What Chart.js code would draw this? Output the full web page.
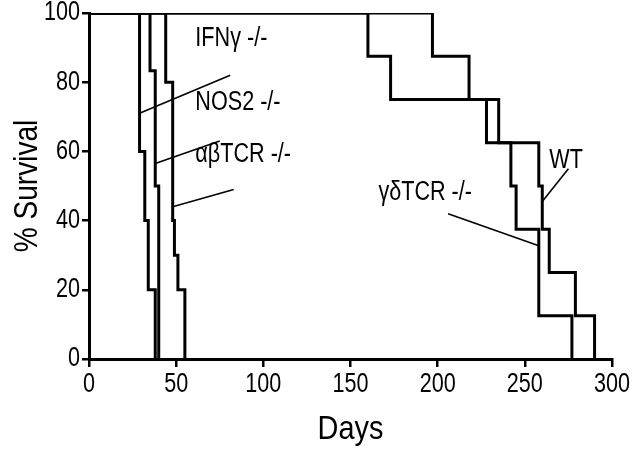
<!DOCTYPE html>
<html><head><meta charset="utf-8">
<script src="https://cdn.jsdelivr.net/npm/chart.js@4"></script>
<style>html,body{margin:0;padding:0;background:#fff}#wrap{width:640px;height:455px;position:relative}</style>
</head><body><div id="wrap"><canvas id="c"></canvas></div>
<script>
// ---- data (days, % survival) ----
const xTicks = [0, 50, 100, 150, 200, 250, 300];
const yTicks = [0, 20, 40, 60, 80, 100];
const xTitle = 'Days';
const yTitle = '% Survival';
const ifngDays = [0, 29, 32, 34, 38];
const ifngSurv = [100, 60, 40, 20, 0];
const nos2Days = [0, 35, 38, 40];
const nos2Surv = [100, 83.3, 50, 0];
const abTcrDays = [0, 44, 48, 49, 51, 55];
const abTcrSurv = [100, 80, 40, 30, 20, 0];
const gdTcrDays = [0, 160, 173, 228, 242, 245, 258, 277];
const gdTcrSurv = [100, 87.5, 75, 62.5, 50, 37.5, 12.5, 0];
const wtDays = [0, 197, 218, 235, 258, 260, 264, 279, 290];
const wtSurv = [100, 87.5, 75, 62.5, 50, 37.5, 25, 12.5, 0];
// labels and callouts (data coordinates)
const labelTexts = ['IFNγ -/-', 'NOS2 -/-', 'αβTCR -/-', 'WT', 'γδTCR -/-'];
const labelX = [61, 61, 61, 264, 166];
const labelY = [92.6, 74.1, 59, 57.5, 48];
const calloutFromX = [81, 75, 83, 275, 206];
const calloutFromY = [82, 63, 49, 55, 42];
const calloutToX = [29, 38, 48, 260, 258];
const calloutToY = [71, 56.5, 44, 45.5, 32.7];

const FONT = "'Liberation Sans', Arial, Helvetica, sans-serif";
function pts(xs, ys) { return xs.map((x, i) => ({x: x, y: ys[i]})); }
function curve(label, xs, ys) {
  return {label: label, data: pts(xs, ys), stepped: true, borderColor: '#000', borderWidth: 3,
          pointRadius: 0, fill: false, tension: 0, borderJoinStyle: 'miter', borderCapStyle: 'butt'};
}
const datasets = [
  curve('IFNγ -/-', ifngDays, ifngSurv),
  curve('NOS2 -/-', nos2Days, nos2Surv),
  curve('αβTCR -/-', abTcrDays, abTcrSurv),
  curve('γδTCR -/-', gdTcrDays, gdTcrSurv),
  curve('WT', wtDays, wtSurv)
];
labelTexts.forEach((t, i) => {
  datasets.push({label: 'callout ' + t,
    data: [{x: calloutFromX[i], y: calloutFromY[i]}, {x: calloutToX[i], y: calloutToY[i]}],
    borderColor: '#000', borderWidth: 1.6, pointRadius: 0, fill: false, stepped: false});
});

// Helvetica-Narrow-like text: Liberation Sans compressed horizontally
function narrowText(ctx, t, x, y, size, sx, align, rot) {
  ctx.save();
  ctx.translate(x, y);
  if (rot) ctx.rotate(rot);
  ctx.scale(sx, 1);
  ctx.font = size + 'px ' + FONT;
  ctx.textAlign = align;
  ctx.textBaseline = 'middle';
  ctx.fillStyle = '#000';
  ctx.fillText(t, 0, 0);
  ctx.restore();
}
const textPlugin = {
  id: 'narrowText',
  afterDraw(chart) {
    const ctx = chart.ctx, xs = chart.scales.x, ys = chart.scales.y;
    xs.ticks.forEach(t => narrowText(ctx, String(t.value), xs.getPixelForValue(t.value), xs.top + 26, 27, 0.8, 'center'));
    ys.ticks.forEach(t => narrowText(ctx, String(t.value), ys.right - 9, ys.getPixelForValue(t.value), 27, 0.8, 'right'));
    narrowText(ctx, xTitle, (xs.left + xs.right) / 2, xs.bottom - 25, 34, 0.85, 'center');
    narrowText(ctx, yTitle, ys.left + 28, (ys.top + ys.bottom) / 2, 33, 0.85, 'center', -Math.PI / 2);
    labelTexts.forEach((t, i) => {
      narrowText(ctx, t, xs.getPixelForValue(labelX[i]), ys.getPixelForValue(labelY[i]), 27, 0.8, 'left');
    });
  }
};

new Chart(document.getElementById('c'), {
  type: 'line',
  data: {datasets: datasets},
  plugins: [textPlugin],
  options: {
    responsive: true, maintainAspectRatio: false, animation: false,
    devicePixelRatio: 1,
    layout: {padding: {top: 13, right: 28, left: 0, bottom: 0}},
    plugins: {legend: {display: false}, tooltip: {enabled: false}},
    scales: {
      x: {
        type: 'linear', min: 0, max: 300,
        afterBuildTicks: s => { s.ticks = xTicks.map(v => ({value: v})); },
        afterFit: s => { s.height = 96; },
        ticks: {display: false},
        grid: {display: true, drawOnChartArea: false, drawTicks: true, tickLength: 8, color: '#000', lineWidth: 2.5},
        border: {display: true, color: '#000', width: 3},
        title: {display: false}
      },
      y: {
        type: 'linear', min: 0, max: 100,
        afterBuildTicks: s => { s.ticks = yTicks.map(v => ({value: v})); },
        afterFit: s => { s.width = 89; },
        ticks: {display: false},
        grid: {display: true, drawOnChartArea: false, drawTicks: true, tickLength: 7, color: '#000', lineWidth: 2.5},
        border: {display: true, color: '#000', width: 3},
        title: {display: false}
      }
    }
  }
});
</script></body></html>
